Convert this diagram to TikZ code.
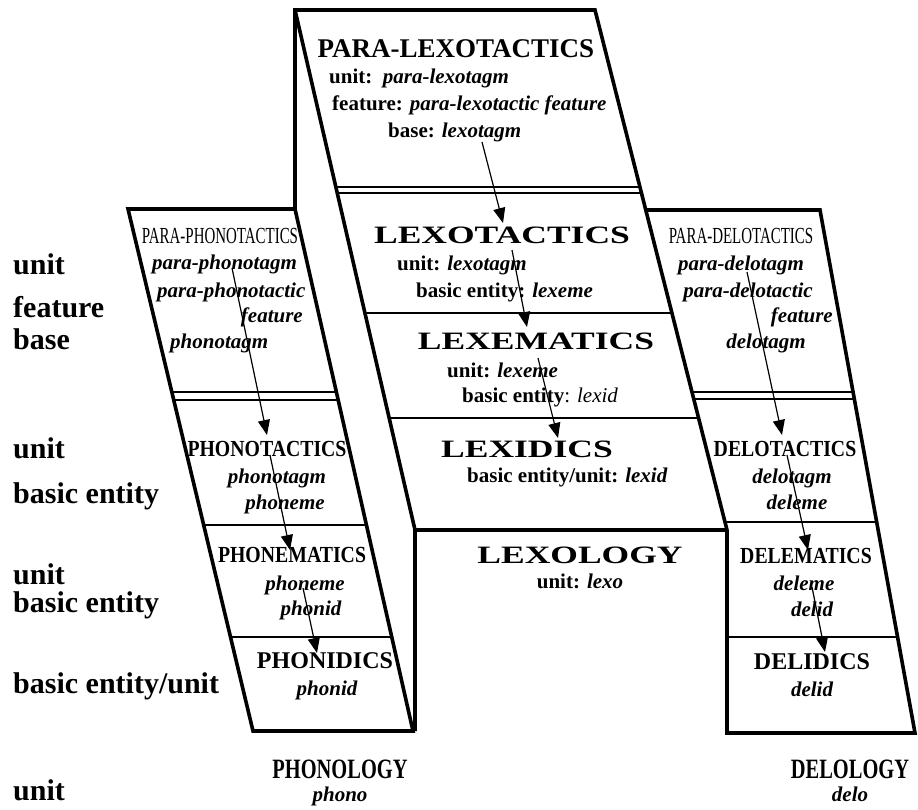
\documentclass[tikz,border=0pt]{standalone}
\usepackage{fontspec}
\setmainfont{Liberation Serif}
\newfontfamily\widefont[FakeStretch=1.42]{Liberation Serif}
\newfontfamily\narrowfont[FakeStretch=0.65]{Liberation Serif}
\newfontfamily\slimfont[FakeStretch=0.86]{Liberation Serif}
\newfontfamily\lowfont[FakeStretch=0.73]{Liberation Serif}
\usetikzlibrary{calc}
\usetikzlibrary{positioning}
\usetikzlibrary{arrows.meta}
\tikzstyle{wall} = [line width=3.6pt]
\tikzstyle{rule} = [line width=1.6pt]
\tikzstyle{flow} = [line width=1.2pt, -{Triangle[length=15pt,width=12pt]}]
\tikzstyle{lexhead} = [inner sep=0, anchor=base, font=\widefont\bfseries\fontsize{25}{25}\selectfont]
\tikzstyle{parahead} = [inner sep=0, anchor=base, font=\narrowfont\fontsize{23}{23}\selectfont]
\tikzstyle{sidehead} = [inner sep=0, anchor=base, font=\slimfont\bfseries\fontsize{23}{23}\selectfont]
\tikzstyle{idhead} = [inner sep=0, anchor=base, font=\bfseries\fontsize{24}{24}\selectfont]
\tikzstyle{loghead} = [inner sep=0, anchor=base, font=\lowfont\bfseries\fontsize{28}{28}\selectfont]
\tikzstyle{entry} = [inner sep=0, anchor=base, font=\bfseries\itshape\fontsize{21}{21}\selectfont]
\tikzstyle{info} = [inner sep=0, anchor=base west, font=\bfseries\fontsize{21}{21}\selectfont]
\tikzstyle{level} = [inner sep=0, anchor=base west, font=\bfseries\fontsize{30}{30}\selectfont]

\begin{document}
\begin{tikzpicture}[x=1pt, y=-1pt]
    \useasboundingbox (0,0) rectangle (918,809);
    % corners
    \coordinate (cTL) at (295,10);
    \coordinate (cTR) at (595,10);
    \coordinate (cBL) at (415,530);
    \coordinate (cBR) at (727,530);
    \coordinate (lexoB) at (415,731);
    \coordinate (pTL) at (128,209);
    \coordinate (pTR) at (295,209);
    \coordinate (pBL) at (253,731);
    \coordinate (pBR) at (413,731);
    \coordinate (dTL) at (intersection of cTR--cBR and 0,210--1,210);
    \coordinate (dTR) at (820,210);
    \coordinate (dBL) at (727,733);
    \coordinate (dBR) at (915,733);

    \draw[wall] (pTR) -- (pTL) -- (pBL) -- (pBR) -- (pTR) -- (cTL) -- (cTR) -- (cBR) -- (dBL) -- (dBR) -- (dTR) -- (dTL);
    \draw[wall] (cTL) -- (cBL) -- (lexoB);
    \draw[wall] (cBL) -- (cBR);

    \draw[rule] (intersection of cTL--cBL and 0,187--1,187) -- (intersection of cTR--cBR and 0,187--1,187);
    \draw[rule] (intersection of cTL--cBL and 0,193--1,193) -- (intersection of cTR--cBR and 0,193--1,193);
    \draw[rule] (intersection of cTL--cBL and 0,313--1,313) -- (intersection of cTR--cBR and 0,313--1,313);
    \draw[rule] (intersection of cTL--cBL and 0,418--1,418) -- (intersection of cTR--cBR and 0,418--1,418);
    \draw[rule] (intersection of pTL--pBL and 0,392--1,392) -- (intersection of pTR--pBR and 0,392--1,392);
    \draw[rule] (intersection of pTL--pBL and 0,400--1,400) -- (intersection of pTR--pBR and 0,400--1,400);
    \draw[rule] (intersection of pTL--pBL and 0,525--1,525) -- (intersection of pTR--pBR and 0,525--1,525);
    \draw[rule] (intersection of pTL--pBL and 0,637--1,637) -- (intersection of pTR--pBR and 0,637--1,637);
    \draw[rule] (intersection of cTR--cBR and 0,392--1,392) -- (intersection of dTR--dBR and 0,392--1,392);
    \draw[rule] (intersection of cTR--cBR and 0,399--1,399) -- (intersection of dTR--dBR and 0,399--1,399);
    \draw[rule] (intersection of cTR--cBR and 0,522--1,522) -- (intersection of dTR--dBR and 0,522--1,522);
    \draw[rule] (intersection of cBR--dBL and 0,637--1,637) -- (intersection of dTR--dBR and 0,637--1,637);

    % lexology
    \node[idhead, font=\bfseries\fontsize{27}{27}\selectfont] (pltHead) at (456,57) {PARA-LEXOTACTICS};
    \node[info] (pltUnit) at (329,83) {unit:\ \ \textit{para-lexotagm}};
    \node[info] (pltFeat) at (332,110) {feature: \textit{para-lexotactic feature}};
    \node[info] (pltBase) at (388,137) {base: \textit{lexotagm}};
    \node[lexhead] (ltHead) at (502,243) {LEXOTACTICS};
    \node[info] (ltUnit) at (397,270) {unit: \textit{lexotagm}};
    \node[info] (ltBasic) at (416,297) {basic entity: \textit{lexeme}};
    \node[lexhead] (lmHead) at (536,349) {LEXEMATICS};
    \node[info] (lmUnit) at (447,377) {unit: \textit{lexeme}};
    \node[info] (lmBasic) at (462,402) {basic entity\mdseries: \textit{lexid}};
    \node[lexhead] (liHead) at (527,457) {LEXIDICS};
    \node[info] (liBasic) at (467,482) {basic entity/unit: \textit{lexid}};
    \node[lexhead] (loHead) at (580,563) {LEXOLOGY};
    \node[info, anchor=base] (loUnit) at (580,588) {unit: \textit{lexo}};

    % phonology
    \node[parahead] (pptHead) at (220,243) {PARA-PHONOTACTICS};
    \node[entry, anchor=base west] (pptUnit) at (152,269) {para-phonotagm};
    \node[entry, anchor=base west] (pptFeat) at (157,297) {para-phonotactic};
    \node[entry, anchor=base east] (pptFeatB) at (303,322) {feature};
    \node[entry, anchor=base west] (pptBase) at (170,348) {phonotagm};
    \node[sidehead] (ptHead) at (267,456) {PHONOTACTICS};
    \node[entry] (ptUnit) at (277,483) {phonotagm};
    \node[entry] (ptBasic) at (285,509) {phoneme};
    \node[sidehead] (pmHead) at (292,562) {PHONEMATICS};
    \node[entry] (pmUnit) at (305,590) {phoneme};
    \node[entry] (pmBasic) at (311,615) {phonid};
    \node[idhead] (piHead) at (325,668) {PHONIDICS};
    \node[entry] (piBasic) at (327,695) {phonid};
    \node[loghead] (phHead) at (340,778) {PHONOLOGY};
    \node[entry] (phUnit) at (340,801) {phono};

    % delology
    \node[parahead] (pdtHead) at (741,243) {PARA-DELOTACTICS};
    \node[entry] (pdtUnit) at (741,270) {para-delotagm};
    \node[entry] (pdtFeat) at (748,297) {para-delotactic};
    \node[entry, anchor=base east] (pdtFeatB) at (833,322) {feature};
    \node[entry] (pdtBase) at (766,348) {delotagm};
    \node[sidehead] (dtHead) at (785,456) {DELOTACTICS};
    \node[entry] (dtUnit) at (792,483) {delotagm};
    \node[entry] (dtBasic) at (797,509) {deleme};
    \node[sidehead] (dmHead) at (806,563) {DELEMATICS};
    \node[entry] (dmUnit) at (804,590) {deleme};
    \node[entry] (dmBasic) at (812,616) {delid};
    \node[idhead] (diHead) at (812,669) {DELIDICS};
    \node[entry] (diBasic) at (812,696) {delid};
    \node[loghead] (dlHead) at (850,778) {DELOLOGY};
    \node[entry] (dlUnit) at (850,801) {delo};

    % levels
    \node[level] (lvUnitA) at (13,274) {unit};
    \node[level] (lvFeat) at (13,317) {feature};
    \node[level] (lvBase) at (13,349) {base};
    \node[level] (lvUnitB) at (13,458) {unit};
    \node[level] (lvBasicB) at (13,503) {basic entity};
    \node[level] (lvUnitC) at (13,584) {unit};
    \node[level] (lvBasicC) at (13,612) {basic entity};
    \node[level] (lvBoth) at (13,693) {basic entity/unit};
    \node[level] (lvUnitD) at (13,800) {unit};

    % realization arrows
    \coordinate (lexA) at (482,142);
    \coordinate (lexB) at (503,223);
    \coordinate (lexC) at (512,250);
    \coordinate (lexD) at (527,327);
    \coordinate (lexE) at (538,358);
    \coordinate (lexF) at (558,438);
    \coordinate (phoA) at (232,268);
    \coordinate (phoB) at (267,435);
    \coordinate (phoC) at (270,455);
    \coordinate (phoD) at (290,550);
    \coordinate (phoE) at (303,588);
    \coordinate (phoF) at (317,653);
    \coordinate (delA) at (747,272);
    \coordinate (delB) at (782,435);
    \coordinate (delC) at (787,455);
    \coordinate (delD) at (808,550);
    \coordinate (delE) at (812,587);
    \coordinate (delF) at (825,652);
    \draw[flow] (lexA) -- (lexB);
    \draw[flow] (lexC) -- (lexD);
    \draw[flow] (lexE) -- (lexF);
    \draw[flow] (phoA) -- (phoB);
    \draw[flow] (phoC) -- (phoD);
    \draw[flow] (phoE) -- (phoF);
    \draw[flow] (delA) -- (delB);
    \draw[flow] (delC) -- (delD);
    \draw[flow] (delE) -- (delF);
\end{tikzpicture}
\end{document}
